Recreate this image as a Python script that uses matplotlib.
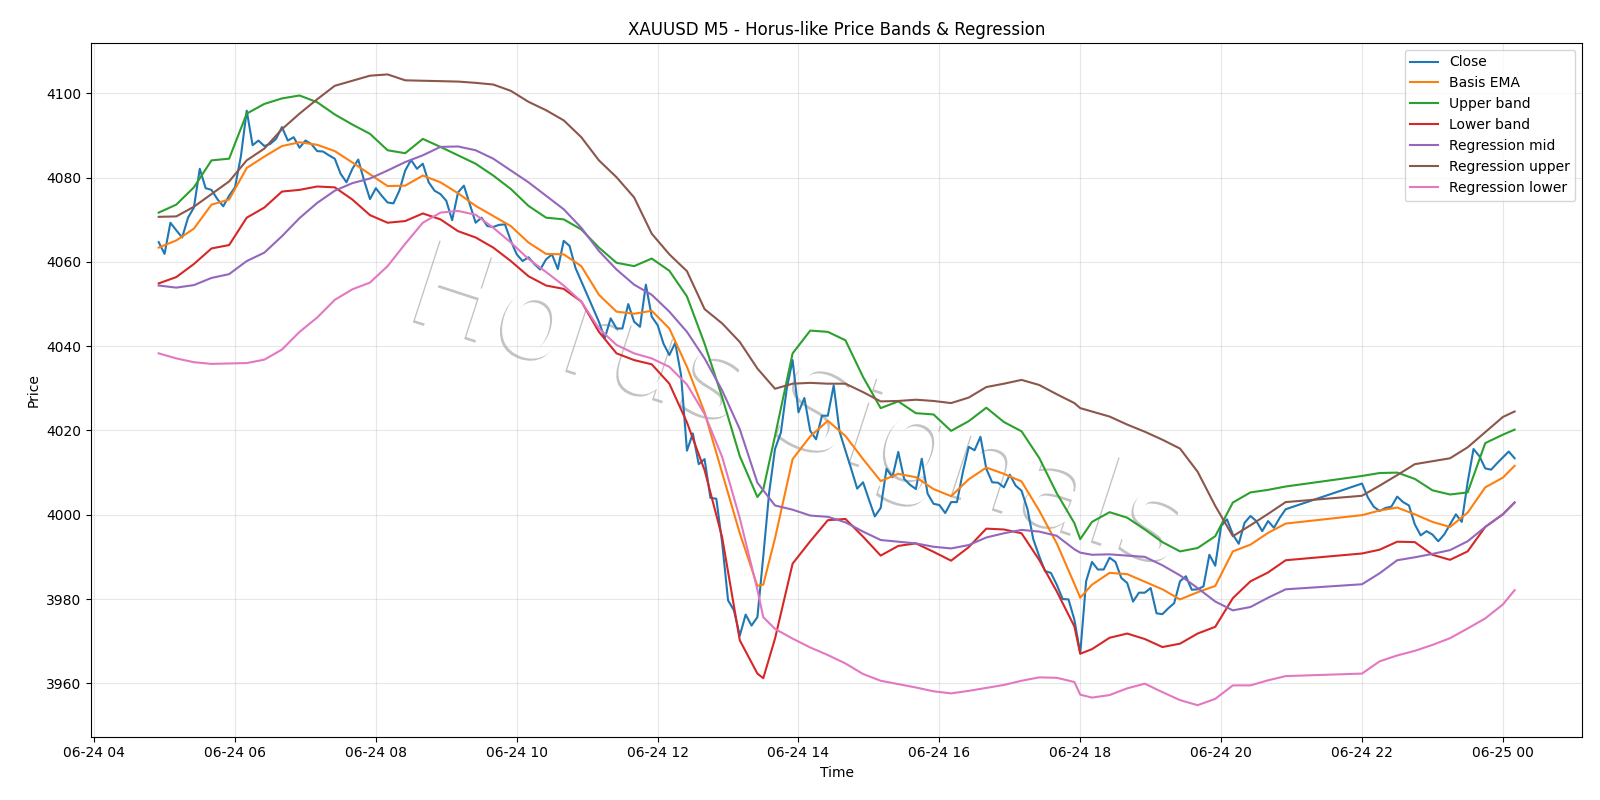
import matplotlib
matplotlib.use("Agg")
import matplotlib.pyplot as plt
import matplotlib.dates as mdates
import matplotlib.patheffects as pe
import pandas as pd

# ---- bar times (M5), with the daily 21:00-22:00 break ----
close_times = list(pd.date_range("2025-06-24 04:55", "2025-06-24 20:55", freq="5min")) + \
              list(pd.date_range("2025-06-24 22:00", "2025-06-25 00:10", freq="5min"))
# sample times for the smoother series (every 15 min, plus the two swing lows)
smooth_times = sorted(
    list(pd.date_range("2025-06-24 04:55", "2025-06-24 20:55", freq="15min")) +
    [pd.Timestamp("2025-06-24 13:30"), pd.Timestamp("2025-06-24 18:00")] +
    list(pd.date_range("2025-06-24 22:00", "2025-06-25 00:00", freq="15min")) +
    [pd.Timestamp("2025-06-25 00:10")]
)

close = [
    4064.7, 4061.9, 4069.3, 4067.5, 4065.8, 4070.5, 4072.9, 4082.1, 4077.5, 4077.1,
    4074.9, 4073.2, 4075.7, 4077.7, 4085.0, 4095.9, 4087.7, 4088.8, 4087.5, 4088.0,
    4089.2, 4092.0, 4088.8, 4089.6, 4087.1, 4088.8, 4088.0, 4086.3, 4086.2, 4085.3,
    4084.5, 4080.9, 4078.9, 4082.1, 4084.3, 4079.3, 4074.9, 4077.5, 4075.7, 4074.1,
    4073.9, 4076.9, 4081.7, 4084.2, 4082.1, 4083.3, 4078.9, 4076.9, 4076.1, 4074.5,
    4069.9, 4076.5, 4078.1, 4073.7, 4069.3, 4070.5, 4068.5, 4068.3, 4068.8, 4068.9,
    4065.0, 4061.8, 4060.2, 4061.1, 4059.5, 4058.2, 4060.6, 4061.8, 4058.3, 4065.0,
    4063.8, 4058.6, 4055.4, 4052.2, 4049.0, 4045.8, 4041.9, 4046.6, 4044.2, 4044.2,
    4050.0, 4045.8, 4044.6, 4054.6, 4047.0, 4045.0, 4040.6, 4037.9, 4040.8, 4033.1,
    4015.2, 4019.3, 4012.0, 4013.2, 4004.0, 4003.8, 3993.3, 3979.7, 3977.3, 3971.3,
    3976.3, 3973.7, 3975.7, 3990.1, 4005.2, 4015.6, 4019.5, 4029.9, 4036.7, 4024.3,
    4027.7, 4019.9, 4017.9, 4023.5, 4023.5, 4030.7, 4019.7, 4015.2, 4010.8, 4006.2,
    4007.7, 4003.6, 3999.6, 4001.6, 4010.9, 4008.9, 4014.9, 4008.5, 4007.1, 4006.1,
    4013.3, 4005.0, 4002.6, 4002.3, 4000.4, 4003.0, 4003.0, 4010.1, 4016.1, 4015.3,
    4018.5, 4010.9, 4007.7, 4007.6, 4006.5, 4009.5, 4006.9, 4005.7, 4001.4, 3994.2,
    3990.2, 3986.6, 3986.2, 3983.4, 3980.0, 3979.9, 3975.1, 3967.1, 3984.2, 3988.8,
    3987.0, 3987.0, 3989.8, 3988.8, 3985.0, 3983.8, 3979.4, 3981.5, 3981.5, 3982.6,
    3976.6, 3976.4, 3977.8, 3979.0, 3984.2, 3985.4, 3982.2, 3982.3, 3983.0, 3990.5,
    3987.9, 3997.3, 3998.9, 3995.3, 3993.1, 3998.1, 3999.7, 3998.5, 3996.1, 3998.5,
    3996.9, 3999.3, 4001.3,
    4007.4, 4004.1, 4001.9, 4000.9, 4001.6, 4001.9, 4004.3, 4003.0, 4002.2, 3997.7,
    3995.1, 3996.1, 3995.3, 3993.7, 3995.3, 3997.7, 4000.1, 3998.3, 4007.7, 4015.6,
    4013.9, 4011.0, 4010.7, 4012.2, 4013.6, 4015.0, 4013.4,
]

basis_ema = [
    4063.4, 4065.1, 4067.9, 4073.6, 4074.8, 4082.3, 4085.0, 4087.5, 4088.4, 4087.8,
    4086.3, 4083.6, 4080.8, 4078.0, 4078.1, 4080.5, 4078.9, 4076.3, 4073.3, 4070.9,
    4068.5, 4064.6, 4061.9, 4061.8, 4059.0, 4052.2, 4048.2, 4047.7, 4048.4, 4044.2,
    4035.1, 4024.3, 4009.9, 3995.6, 3983.1, 3983.4, 3994.4, 4013.2, 4018.6, 4022.3,
    4018.7, 4013.2, 4008.0, 4009.7, 4008.9, 4006.1, 4004.4, 4008.4, 4011.2, 4009.7,
    4007.9, 4001.0, 3993.2, 3983.6, 3980.3, 3983.4, 3986.2, 3985.9, 3984.1, 3982.3,
    3979.9, 3981.6, 3983.1, 3991.3, 3992.9, 3995.7, 3997.9,
    3999.9, 4001.0, 4001.7, 4000.1, 3998.3, 3997.1, 4000.5, 4006.5, 4008.8, 4011.6,
]

upper_band = [
    4071.7, 4073.6, 4077.7, 4084.1, 4084.5, 4095.2, 4097.5, 4098.8, 4099.5, 4097.9,
    4095.0, 4092.6, 4090.4, 4086.5, 4085.8, 4089.2, 4087.3, 4085.3, 4083.3, 4080.5,
    4077.3, 4073.3, 4070.5, 4070.1, 4067.7, 4063.4, 4059.8, 4059.0, 4060.8, 4057.9,
    4051.8, 4040.6, 4027.9, 4013.9, 4004.2, 4006.0, 4018.7, 4038.3, 4043.7, 4043.4,
    4041.4, 4032.7, 4025.3, 4026.9, 4024.1, 4023.8, 4019.9, 4022.2, 4025.4, 4022.0,
    4019.8, 4013.5, 4005.1, 3998.0, 3994.2, 3998.3, 4000.6, 3999.3, 3996.5, 3993.5,
    3991.3, 3992.1, 3994.9, 4002.9, 4005.3, 4005.9, 4006.7,
    4009.2, 4009.9, 4010.0, 4008.5, 4005.8, 4004.8, 4005.3, 4017.0, 4019.0, 4020.2,
]

lower_band = [
    4054.9, 4056.4, 4059.5, 4063.2, 4064.0, 4070.5, 4072.9, 4076.7, 4077.1, 4077.9,
    4077.7, 4074.8, 4071.1, 4069.3, 4069.7, 4071.5, 4070.1, 4067.3, 4065.8, 4063.4,
    4060.2, 4056.6, 4054.4, 4053.6, 4050.6, 4043.4, 4038.3, 4036.7, 4035.7, 4031.1,
    4021.9, 4010.6, 3994.6, 3970.2, 3962.3, 3961.2, 3970.6, 3988.4, 3993.7, 3998.7,
    3999.0, 3994.8, 3990.3, 3992.6, 3993.2, 3991.2, 3989.1, 3992.3, 3996.7, 3996.5,
    3995.6, 3989.3, 3981.8, 3973.5, 3967.0, 3968.1, 3970.8, 3971.8, 3970.5, 3968.6,
    3969.4, 3971.8, 3973.4, 3980.2, 3984.2, 3986.3, 3989.2,
    3990.8, 3991.7, 3993.6, 3993.5, 3990.5, 3989.3, 3991.3, 3997.1, 4000.1, 4002.9,
]

reg_mid = [
    4054.4, 4053.9, 4054.5, 4056.2, 4057.1, 4060.2, 4062.2, 4066.1, 4070.4, 4074.0,
    4076.9, 4078.7, 4079.8, 4081.7, 4083.7, 4085.3, 4087.3, 4087.4, 4086.5, 4084.5,
    4081.7, 4078.9, 4075.7, 4072.5, 4068.1, 4062.6, 4058.2, 4054.6, 4052.2, 4048.2,
    4043.4, 4037.1, 4029.5, 4020.3, 4007.6, 4005.8, 4002.2, 4001.2, 3999.8, 3999.5,
    3998.2, 3996.0, 3994.0, 3993.6, 3993.2, 3992.4, 3992.0, 3992.8, 3994.6, 3995.6,
    3996.4, 3996.0, 3995.0, 3991.8, 3991.0, 3990.5, 3990.6, 3990.3, 3990.0, 3988.0,
    3985.6, 3982.6, 3979.4, 3977.3, 3978.1, 3980.3, 3982.3,
    3983.5, 3986.1, 3989.2, 3989.9, 3990.7, 3991.6, 3993.7, 3997.1, 4000.1, 4002.9,
]

reg_upper = [
    4070.7, 4070.8, 4073.1, 4076.1, 4079.1, 4084.1, 4086.9, 4091.5, 4095.2, 4098.6,
    4101.8, 4103.0, 4104.2, 4104.5, 4103.1, 4103.0, 4102.9, 4102.8, 4102.5, 4102.1,
    4100.6, 4098.0, 4096.0, 4093.6, 4089.6, 4084.1, 4080.1, 4075.3, 4066.7, 4061.8,
    4057.8, 4048.8, 4045.4, 4041.0, 4034.7, 4033.1, 4029.9, 4031.1, 4031.3, 4031.1,
    4031.1, 4029.1, 4026.9, 4027.0, 4027.3, 4027.0, 4026.5, 4027.8, 4030.3, 4031.1,
    4032.0, 4030.8, 4028.6, 4026.5, 4025.3, 4024.5, 4023.3, 4021.4, 4019.7, 4017.8,
    4015.7, 4010.2, 4002.1, 3994.9, 3997.5, 4000.2, 4003.0,
    4004.5, 4006.9, 4009.4, 4012.0, 4012.7, 4013.4, 4016.0, 4019.6, 4023.2, 4024.5,
]

reg_lower = [
    4038.3, 4037.1, 4036.2, 4035.8, 4035.9, 4036.0, 4036.8, 4039.2, 4043.4, 4046.8,
    4051.0, 4053.5, 4055.1, 4059.0, 4064.3, 4069.3, 4071.7, 4072.1, 4071.2, 4068.1,
    4064.6, 4060.7, 4057.6, 4054.4, 4050.6, 4044.2, 4040.3, 4038.3, 4037.1, 4035.1,
    4030.9, 4023.9, 4013.7, 3999.2, 3982.2, 3975.7, 3972.9, 3970.6, 3968.5, 3966.7,
    3964.7, 3962.2, 3960.6, 3959.8, 3959.0, 3958.1, 3957.6, 3958.2, 3958.9, 3959.6,
    3960.6, 3961.4, 3961.3, 3960.3, 3957.3, 3956.6, 3957.2, 3958.8, 3959.9, 3957.9,
    3956.0, 3954.8, 3956.3, 3959.5, 3959.5, 3960.7, 3961.7,
    3962.3, 3965.2, 3966.6, 3967.7, 3969.1, 3970.7, 3973.0, 3975.4, 3978.7, 3982.1,
]

assert len(close) == len(close_times)
for s in (basis_ema, upper_band, lower_band, reg_mid, reg_upper, reg_lower):
    assert len(s) == len(smooth_times), len(s)

fig, ax = plt.subplots(figsize=(16, 8), dpi=100)
fig.subplots_adjust(left=0.0568, right=0.989, top=0.9464, bottom=0.0791)

ax.plot(close_times, close, label="Close", color="#1f77b4")
ax.plot(smooth_times, basis_ema, label="Basis EMA", color="#ff7f0e")
ax.plot(smooth_times, upper_band, label="Upper band", color="#2ca02c")
ax.plot(smooth_times, lower_band, label="Lower band", color="#d62728")
ax.plot(smooth_times, reg_mid, label="Regression mid", color="#9467bd")
ax.plot(smooth_times, reg_upper, label="Regression upper", color="#8c564b")
ax.plot(smooth_times, reg_lower, label="Regression lower", color="#e377c2")

# watermark
ax.text(0.474, 0.47, "Horus Signals", transform=ax.transAxes, ha="center", va="center",
        rotation=-18, fontsize=85, color="white", zorder=1,
        path_effects=[pe.withSimplePatchShadow(offset=(-1.5, -1.5), shadow_rgbFace="#888888", alpha=0.5)])

ax.set_title("XAUUSD M5 - Horus-like Price Bands & Regression")
ax.set_xlabel("Time")
ax.set_ylabel("Price")
ax.grid(True, alpha=0.3)
ax.xaxis.set_major_locator(mdates.HourLocator(interval=2))
ax.xaxis.set_major_formatter(mdates.DateFormatter("%m-%d %H"))
ax.legend(loc="upper right")
fig.savefig("out.png")
